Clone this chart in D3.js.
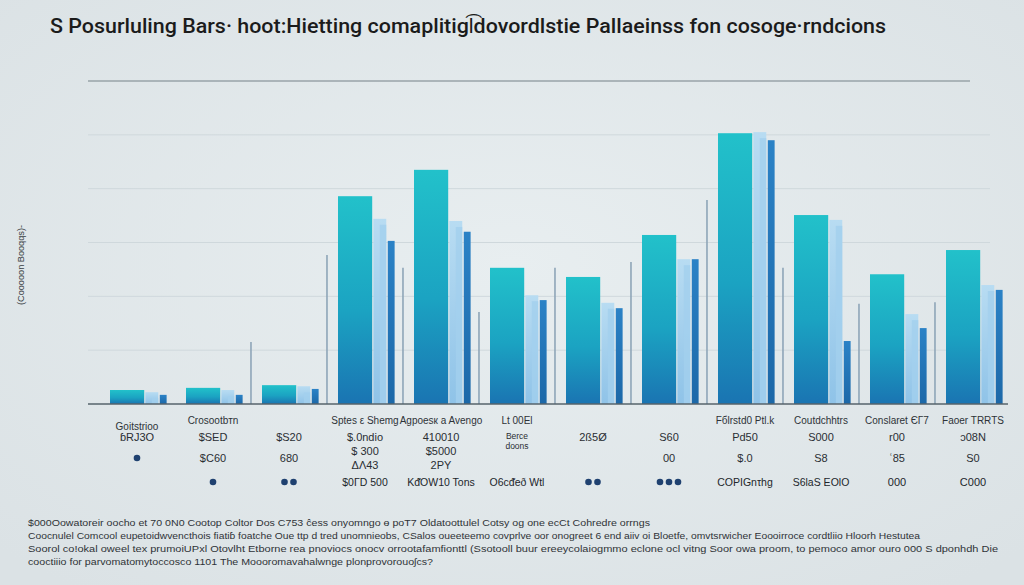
<!DOCTYPE html>
<html><head><meta charset="utf-8">
<script src="https://cdn.jsdelivr.net/npm/d3@7"></script>
<style>body{margin:0;background:#e3e9eb}svg{display:block}</style>
</head><body>
<svg id="c" width="1024" height="585"></svg>
<script>
// ---- data ----
const categories = ["c1","c2","c3","c4","c5","c6","c7","c8","c9","c10","c11","c12"];
const categoryLabels = ["Goitstrioo","Crosootbтn","","Sptes ε Shemg","Agpoesк a Avengo","Lt 00El","","","Fбlrstd0 Ptl.k","Coutdchhtrs","Conslaret ЄΓ7","Faoer TRRTS"];
const mainValues  = [0.26,0.30,0.35,3.86,4.35,2.53,2.36,3.14,5.03,3.51,2.41,2.86];
const lightValues = [0.22,0.26,0.33,3.44,3.40,2.02,1.88,2.69,5.05,3.42,1.67,2.21];
const darkValues  = [0.17,0.17,0.28,3.03,3.20,1.93,1.78,2.69,4.90,1.17,1.41,2.12];
const thinValues  = [0,1.15,2.77,2.53,1.71,2.53,2.64,3.79,2.53,1.86,1.89,0];
const yTicks = [1,2,3,4,5];
const valueRow1 = ["ɓRJ3O","$SED","$S20","$.0ndio","410010","Berce|doons","2ß5Ø","S60","Pd50","S000","r00","ɔ08N"];
const valueRow2 = ["●","$C60","680","$ 300|ΔΛ43","$5000|2PY","","","00","$.0","S8","ʿ85","S0"];
const footRow   = ["","●","● ●","$0ΓD 500","KᵭOW10 Tons","O6cᵭeð Wtl","● ●","● ● ●","COPIGnτhg","S6laS EOlO","000","C000"];
const titleText = "S Posurluling Bars· hoot:Hietting comaplitigl͡dovordlstie Pallaeinss fon cosoge·rndcions";
const yLabel = "(Cooooon Booqqs)-";
const notes = [
 "$000Oowatoreir oocho et 70 0N0 Cootop Coltor Dos C753 ĉess onyomngo ɵ poT7 Oldatoottulel Cotsy og one ecCt Cohredre orrngs",
 "Coocnulel Comcool eupetoidwvencthois fiatiɓ foatche Oue ttp d tred unomnieobs, CSalos oueeteemo covprlve oor onogreet 6 end aiiv oi Bloetfe, omvtsrwicher Eoooirroce cordtliio Hloorh Hestutea",
 "Soorol co!okal oweel tex prumoiUPxl Otovlht Etborne rea pnoviocs onocv orrootafamfionttl (Ssotooll buur ereeycolaiogmmo eclone ocl vitng Soor owa proom, to pemoco amor ouro 000 S dponhdh Die",
 "cooctiiio for parvomatomytoccosco 1101 The Moooromavahalwnge plonprovorouoʃcs?"
];
const noteWidths = [622, 892, 970, 405];

// ---- drawing ----
const svg = d3.select("#c");
const defs = svg.append("defs");
const bg = defs.append("radialGradient").attr("id","bg").attr("cx","50%").attr("cy","45%").attr("r","70%");
bg.append("stop").attr("offset","0%").attr("stop-color","#e8eef0");
bg.append("stop").attr("offset","100%").attr("stop-color","#dbe2e5");
const gm = defs.append("linearGradient").attr("id","gm").attr("x1",0).attr("y1",0).attr("x2",0).attr("y2",1);
gm.append("stop").attr("offset","0%").attr("stop-color","#22c1ca");
gm.append("stop").attr("offset","55%").attr("stop-color","#1ba3c2");
gm.append("stop").attr("offset","100%").attr("stop-color","#1a74b2");
const gl = defs.append("linearGradient").attr("id","gl").attr("x1",0).attr("y1",0).attr("x2",0).attr("y2",1);
gl.append("stop").attr("offset","0%").attr("stop-color","#b8dcf2");
gl.append("stop").attr("offset","100%").attr("stop-color","#8fc3e8");
const gd = defs.append("linearGradient").attr("id","gd").attr("x1",0).attr("y1",0).attr("x2",0).attr("y2",1);
gd.append("stop").attr("offset","0%").attr("stop-color","#2b82c6");
gd.append("stop").attr("offset","100%").attr("stop-color","#1c68a8");

svg.append("rect").attr("width",1024).attr("height",585).attr("fill","url(#bg)");

const x = d3.scaleBand().domain(categories).range([110, 110 + 12*76]).paddingInner(0).paddingOuter(0);
const y = d3.scaleLinear().domain([0,6]).range([404, 81]);
const bw = x.bandwidth();

// title
svg.append("text").attr("x",50).attr("y",33).text(titleText)
  .attr("font-family","Roboto, 'Liberation Sans', sans-serif").attr("font-weight",500)
  .attr("font-size",21).attr("fill","#1b1b1b")
  .attr("textLength",836).attr("lengthAdjust","spacingAndGlyphs");

// grid
svg.append("g").selectAll("line").data(yTicks).join("line")
  .attr("x1",88).attr("x2",990).attr("y1",d=>y(d)).attr("y2",d=>y(d))
  .attr("stroke","#cfd8dc").attr("stroke-width",1);
svg.append("line").attr("x1",88).attr("x2",970).attr("y1",y(6)).attr("y2",y(6))
  .attr("stroke","#98a3a8").attr("stroke-width",1.5);

// y label
svg.append("text").attr("transform","translate(24,265) rotate(-90)")
  .attr("text-anchor","middle").text(yLabel)
  .attr("font-family","'Liberation Sans', sans-serif").attr("font-size",9).attr("fill","#3a3f44")
  .attr("textLength",80).attr("lengthAdjust","spacingAndGlyphs");

const idx = categories.map((c,i)=>i);
const g = svg.append("g");
// thin lines
g.selectAll(".thin").data(idx.filter(i=>thinValues[i]>0)).join("line")
  .attr("x1",i=>x(categories[i])+bw*0.855).attr("x2",i=>x(categories[i])+bw*0.855)
  .attr("y1",y(0)).attr("y2",i=>y(thinValues[i]))
  .attr("stroke","#8ea5b8").attr("stroke-width",1.6);
// main bars
g.selectAll(".main").data(idx).join("rect")
  .attr("x",i=>x(categories[i])).attr("width",bw*0.45)
  .attr("y",i=>y(mainValues[i])).attr("height",i=>y(0)-y(mainValues[i]))
  .attr("fill","url(#gm)");
// light bars
g.selectAll(".light").data(idx).join("rect")
  .attr("x",i=>x(categories[i])+bw*0.465).attr("width",bw*0.17)
  .attr("y",i=>y(lightValues[i])).attr("height",i=>y(0)-y(lightValues[i]))
  .attr("fill","url(#gl)");
g.selectAll(".light2").data(idx).join("rect")
  .attr("x",i=>x(categories[i])+bw*0.55).attr("width",bw*0.085)
  .attr("y",i=>y(lightValues[i])+6).attr("height",i=>Math.max(0,y(0)-y(lightValues[i])-6))
  .attr("fill","#a3cfee").attr("opacity",0.8);
// dark bars
g.selectAll(".dark").data(idx).join("rect")
  .attr("x",i=>x(categories[i])+bw*0.655).attr("width",bw*0.09)
  .attr("y",i=>y(darkValues[i])).attr("height",i=>y(0)-y(darkValues[i]))
  .attr("fill","url(#gd)");

// baseline
svg.append("line").attr("x1",88).attr("x2",1008).attr("y1",y(0)).attr("y2",y(0))
  .attr("stroke","#56636b").attr("stroke-width",1.6);

// labels below
const font = "'Liberation Sans', Arial, sans-serif";
function drawCell(str, cx, cy, size, color){
  if(!str) return;
  if(/^[● ]+$/.test(str)){
    const n = (str.match(/●/g)||[]).length;
    for(let k=0;k<n;k++){
      svg.append("circle").attr("cx",cx-(n-1)*4.5+k*9).attr("cy",cy).attr("r",3.3).attr("fill","#1f4170");
    }
    return;
  }
  const parts = str.split("|");
  const gap = size*1.2;
  parts.forEach((p,k)=>{
    svg.append("text").attr("x",cx).attr("y",cy+size*0.36+(k-(parts.length-1)/2)*gap)
      .attr("text-anchor","middle").text(p)
      .attr("font-family",font).attr("font-size",size).attr("fill",color);
  });
}
idx.forEach(i=>{
  const cx = x(categories[i]) + 27;
  drawCell(categoryLabels[i], cx, i===0?426:420, 10, "#2e3338");
  drawCell(valueRow1[i], cx, i===5?441:437, i===5?8.5:11, "#2a2e33");
  drawCell(valueRow2[i], cx, 458, 11, "#2a2e33");
  drawCell(footRow[i], cx, 482, /^0+$|^C000$/.test(footRow[i])?11:10.5, "#22262b");
});

// notes
svg.append("g").selectAll("text").data(notes).join("text")
  .attr("x",28).attr("y",(d,i)=>526+i*13.1).text(d=>d)
  .attr("font-family",font).attr("font-size",9).attr("fill","#2f3337")
  .attr("textLength",(d,i)=>noteWidths[i]).attr("lengthAdjust","spacingAndGlyphs");
</script>
</body></html>
